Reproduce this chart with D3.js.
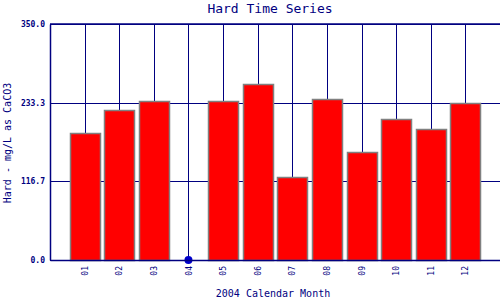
<!DOCTYPE html>
<html>
<head>
<meta charset="utf-8">
<script src="https://cdn.jsdelivr.net/npm/d3@7"></script>
<style>
  body { margin: 0; background: #fff; }
  text { font-family: "DejaVu Sans Mono", monospace; fill: #000080; }
</style>
</head>
<body>
<svg id="chart" width="500" height="300"></svg>
<script>
const months = ['01', '02', '03', '04', '05', '06', '07', '08', '09', '10', '11', '12'];
// hardness values, null = no sample (drawn as a dot at zero)
const hardness = [188.8, 222.9, 236.3, null, 236.3, 261.5, 123.6, 239.2, 160.6, 209.6, 193.8, 233.3];
const yTicks = [0, 116.7, 233.3, 350];

const svg_stats = { top: 24, left: 50, bottom: 40, right: 0 };
svg_stats.width = 500 - svg_stats.left - svg_stats.right;
svg_stats.height = 300 - svg_stats.top - svg_stats.bottom;

const svg = d3.select('#chart');
const g = svg.append('g')
    .attr('transform', `translate(${svg_stats.left}, ${svg_stats.top})`);

const x_scale = d3.scaleLinear().domain([0, months.length + 1]).range([0, svg_stats.width]);
const y_scale = d3.scaleLinear().domain([0, 350]).range([svg_stats.height, 0]);
const barW = 30;

// grid
g.selectAll('.vgrid').data(months).enter().append('line')
    .attr('x1', (d, i) => Math.round(x_scale(i + 1)) + 0.5).attr('x2', (d, i) => Math.round(x_scale(i + 1)) + 0.5)
    .attr('y1', 0).attr('y2', svg_stats.height)
    .attr('stroke', '#000080').attr('stroke-width', 1);
g.selectAll('.hgrid').data(yTicks).enter().append('line')
    .attr('x1', 0).attr('x2', svg_stats.width)
    .attr('y1', d => Math.round(y_scale(d)) + 0.5).attr('y2', d => Math.round(y_scale(d)) + 0.5)
    .attr('stroke', '#000080').attr('stroke-width', 1);

// bars
const data = months.map((m, i) => ({ m: m, i: i, v: hardness[i] }));
g.selectAll('.bar').data(data.filter(d => d.v !== null)).enter()
    .append('rect')
    .attr('x', d => Math.round(x_scale(d.i + 1) - barW / 2) + 0.5)
    .attr('width', barW)
    .attr('y', d => Math.round(y_scale(d.v)) + 0.5)
    .attr('height', d => svg_stats.height - Math.round(y_scale(d.v)))
    .attr('fill', '#ff0000')
    .attr('stroke', '#808080')
    .attr('stroke-width', 1.5);

g.selectAll('.missing').data(data.filter(d => d.v === null)).enter()
    .append('circle')
    .attr('cx', d => x_scale(d.i + 1))
    .attr('cy', y_scale(0))
    .attr('r', 4)
    .attr('fill', '#0000cc');

// axes
const y_axis = d3.axisLeft(y_scale).tickValues(yTicks).tickSize(0).tickPadding(5)
    .tickFormat(d3.format('.1f'));
g.append('g').call(y_axis)
    .call(a => a.select('.domain').attr('stroke', '#000080').attr('stroke-width', 1.5))
    .selectAll('text').attr('font-size', 8).attr('font-weight', 'bold')
    .attr('font-family', '"DejaVu Sans Mono", monospace').attr('fill', '#000080');

const x_axis = d3.axisBottom(x_scale).tickValues(d3.range(1, 13)).tickSize(0)
    .tickFormat(d => months[d - 1]);
g.append('g').attr('transform', `translate(0, ${svg_stats.height})`).call(x_axis)
    .call(a => a.select('.domain').attr('stroke', '#000080').attr('stroke-width', 1.5))
    .selectAll('text')
    .attr('font-size', 8)
    .attr('font-family', '"DejaVu Sans Mono", monospace').attr('fill', '#000080')
    .attr('transform', 'rotate(-90)')
    .attr('text-anchor', 'end')
    .attr('x', -6).attr('y', 0).attr('dy', '0.32em');

// frame top line
g.append('line').attr('x1', 0).attr('x2', svg_stats.width).attr('y1', 0).attr('y2', 0)
    .attr('stroke', '#000080').attr('stroke-width', 1.5);

// titles
svg.append('text').attr('x', 270).attr('y', 13).attr('text-anchor', 'middle')
    .attr('font-size', 13).text('Hard Time Series');
svg.append('text').attr('x', 273).attr('y', 297).attr('text-anchor', 'middle')
    .attr('font-size', 10).text('2004 Calendar Month');
svg.append('text').attr('transform', 'translate(11, 143) rotate(-90)').attr('text-anchor', 'middle')
    .attr('font-size', 10).text('Hard - mg/L as CaCO3');
</script>
</body>
</html>
